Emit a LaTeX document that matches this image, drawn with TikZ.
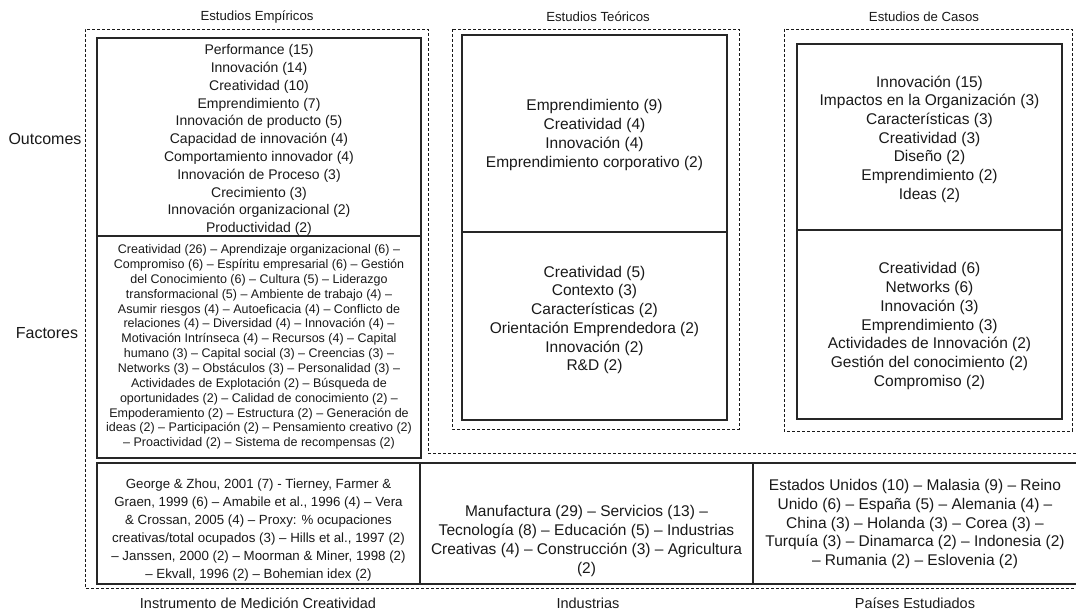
\documentclass[tikz,border=0pt]{standalone}
\usepackage{fontspec}
\setmainfont{Liberation Sans}
\begin{document}
\begin{tikzpicture}[x=1pt,y=-1pt,
  solidbox/.style={draw=black!85, line width=1.1pt},
  dashbox/.style={draw=black!90, line width=0.8pt, dash pattern=on 3pt off 2pt},
  txt/.style={align=center, inner sep=0pt, text=black!90},
  coltitle/.style={txt, font=\fontsize{13.2}{15}\selectfont},
  sidelabel/.style={txt, font=\fontsize{16}{19}\selectfont},
  botlabel/.style={txt, font=\fontsize{14.5}{17}\selectfont},
  outtxt/.style={txt, font=\fontsize{14}{17.8}\selectfont},
  factxt/.style={txt, font=\fontsize{12.5}{14.85}\selectfont},
  bigtxt/.style={txt, font=\fontsize{15.5}{18.7}\selectfont},
  insttxt/.style={txt, font=\fontsize{13.3}{18}\selectfont}
]
\useasboundingbox (0,0) rectangle (1076,612);

% dashed outlines
\draw[dashbox] (1076,453) -- (428,453) -- (428,29) -- (85,29) -- (85,588) -- (1076,588);
\draw[dashbox] (452,29) rectangle (739,429);
\draw[dashbox] (784,29) rectangle (1072,431);

% solid boxes
\draw[solidbox] (97,38) rectangle (421,236);
\draw[solidbox] (97,236) rectangle (421,458);
\draw[solidbox] (462,35) rectangle (727,232);
\draw[solidbox] (462,232) rectangle (727,420);
\draw[solidbox] (797,44) rectangle (1062,230);
\draw[solidbox] (797,230) rectangle (1062,419);
\draw[solidbox] (1080,463) -- (97,463) -- (97,584) -- (1080,584);
\draw[solidbox] (420,463) -- (420,584);
\draw[solidbox] (753,463) -- (753,584);

% titles
\node[coltitle] (tEmp) at (257,17) {Estudios Empíricos};
\node[coltitle] (tTeo) at (598,17) {Estudios Teóricos};
\node[coltitle] (tCas) at (924,17) {Estudios de Casos};
\node[sidelabel] (lOut) at (45,139) {Outcomes};
\node[sidelabel] (lFac) at (47,333) {Factores};
\node[botlabel] (bInst) at (258,603) {Instrumento de Medición Creatividad};
\node[botlabel] (bInd) at (588,603) {Industrias};
\node[botlabel] (bPai) at (915,603) {Países Estudiados};

% contents
\node[outtxt] (empOut) at (259,140) {Performance (15)\\Innovación (14)\\Creatividad (10)\\Emprendimiento (7)\\Innovación de producto (5)\\Capacidad de innovación (4)\\Comportamiento innovador (4)\\Innovación de Proceso (3)\\Crecimiento (3)\\Innovación organizacional (2)\\Productividad (2)};

\node[factxt] (empFac) at (259,347) {Creatividad (26) – Aprendizaje organizacional (6) –\\Compromiso (6) – Espíritu empresarial (6) – Gestión\\del Conocimiento (6) – Cultura (5) – Liderazgo\\transformacional (5) – Ambiente de trabajo (4) –\\Asumir riesgos (4) – Autoeficacia (4) – Conflicto de\\relaciones (4) – Diversidad (4) – Innovación (4) –\\Motivación Intrínseca (4) – Recursos (4) – Capital\\humano (3) – Capital social (3) – Creencias (3) –\\Networks (3) – Obstáculos (3) – Personalidad (3) –\\Actividades de Explotación (2) – Búsqueda de\\oportunidades (2) – Calidad de conocimiento (2) –\\Empoderamiento (2) – Estructura (2) – Generación de\\ideas (2) – Participación (2) – Pensamiento creativo (2)\\– Proactividad (2) – Sistema de recompensas (2)};

\node[bigtxt] (teoOut) at (594.5,135) {Emprendimiento (9)\\Creatividad (4)\\Innovación (4)\\Emprendimiento corporativo (2)};
\node[bigtxt] (teoFac) at (594.5,320) {Creatividad (5)\\Contexto (3)\\Características (2)\\Orientación Emprendedora (2)\\Innovación (2)\\R\&D (2)};

\node[bigtxt] (casOut) at (929.5,139) {Innovación (15)\\Impactos en la Organización (3)\\Características (3)\\Creatividad (3)\\Diseño (2)\\Emprendimiento (2)\\Ideas (2)};
\node[bigtxt] (casFac) at (929.5,326) {Creatividad (6)\\Networks (6)\\Innovación (3)\\Emprendimiento (3)\\Actividades de Innovación (2)\\Gestión del conocimiento (2)\\Compromiso (2)};

\node[insttxt] (inst) at (258.5,530) {George \& Zhou, 2001 (7) - Tierney, Farmer \&\\Graen, 1999 (6) – Amabile et al., 1996 (4) – Vera\\\& Crossan, 2005 (4) – Proxy: \% ocupaciones\\creativas/total ocupados (3) – Hills et al., 1997 (2)\\– Janssen, 2000 (2) – Moorman \& Miner, 1998 (2)\\– Ekvall, 1996 (2) – Bohemian idex (2)};
\node[bigtxt] (ind) at (586.5,541) {Manufactura (29) – Servicios (13) –\\Tecnología (8) – Educación (5) – Industrias\\Creativas (4) – Construcción (3) – Agricultura\\(2)};
\node[bigtxt] (pai) at (915,524) {Estados Unidos (10) – Malasia (9) – Reino\\Unido (6) – España (5) – Alemania (4) –\\China (3) – Holanda (3) – Corea (3) –\\Turquía (3) – Dinamarca (2) – Indonesia (2)\\– Rumania (2) – Eslovenia (2)};
\end{tikzpicture}
\end{document}
